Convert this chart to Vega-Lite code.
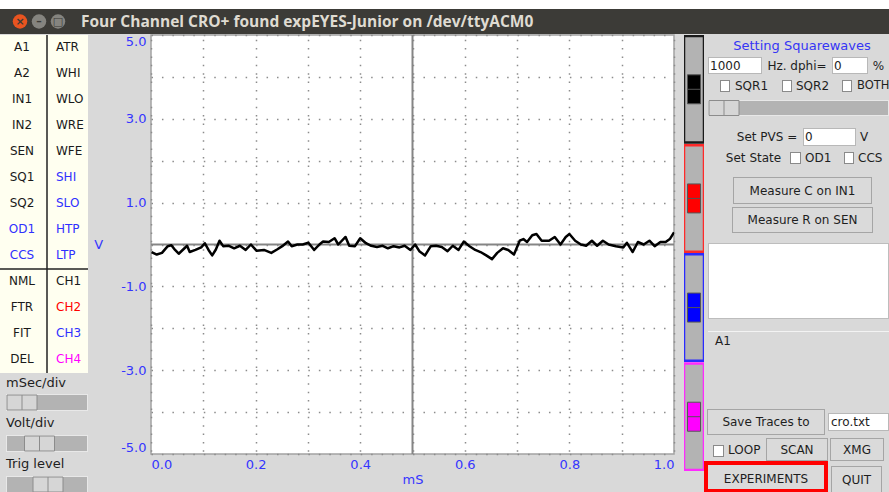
{
"$schema": "https://vega.github.io/schema/vega-lite/v6.json",
"padding": 0,
"background": "#d9d9d9",
"config": {"view": {"stroke": null}, "concat": {"spacing": 0}},
"resolve": {"scale": {"color": "independent", "fill": "independent", "stroke": "independent"}},
"spacing": 0,
"vconcat": [
 {"width": 889, "height": 9, "view": {"fill": "#ffffff"}, "data": {"values": [{}]}, "mark": {"type": "text", "text": "", "fontSize": 0}, "encoding": {}},
 {"width": 889, "height": 25, "view": {"fill": "#3c3b37"},
  "layer": [
   {"data": {"values": [{"button": "close", "glyph": "×"}, {"button": "minimize", "glyph": "–"}, {"button": "maximize", "glyph": "□"}]},
    "mark": {"type": "point", "filled": true, "size": 210, "opacity": 1, "shape": "circle"},
    "encoding": {"x": {"field": "button", "type": "nominal", "scale": {"type": "point", "domain": ["close", "minimize", "maximize", "title"], "range": [20, 77], "padding": 0}, "axis": null},
     "color": {"field": "button", "type": "nominal", "scale": {"domain": ["close", "minimize", "maximize"], "range": ["#e95420", "#85847f", "#85847f"]}, "legend": null}}},
   {"data": {"values": [{"button": "close", "glyph": "×"}, {"button": "minimize", "glyph": "–"}, {"button": "maximize", "glyph": "□"}]},
    "mark": {"type": "text", "font": "DejaVu Sans", "fontSize": 11, "fontWeight": "bold", "color": "#3c3b37"},
    "encoding": {"x": {"field": "button", "type": "nominal"}, "text": {"field": "glyph"}}},
   {"data": {"values": [{"title": "Four Channel CRO+ found expEYES-Junior on /dev/ttyACM0"}]},
    "mark": {"type": "text", "align": "left", "dx": 4, "font": "Open Sans", "fontSize": 15.5, "fontWeight": "bold", "color": "#dfdbd2"},
    "encoding": {"x": {"datum": "title", "type": "nominal"}, "text": {"field": "title"}}}
  ]},
 {"resolve": {"scale": {"color": "independent", "fill": "independent", "stroke": "independent"}},
  "hconcat": [
   {"vconcat": [
     {"width": 88, "height": 338, "view": {"fill": "#fffff0"},
      "data": {"values": [
       {"label": "A1", "col": "L", "row": 1, "group": "measure"}, {"label": "ATR", "col": "R", "row": 1, "group": "measure"},
       {"label": "A2", "col": "L", "row": 2, "group": "measure"}, {"label": "WHI", "col": "R", "row": 2, "group": "measure"},
       {"label": "IN1", "col": "L", "row": 3, "group": "measure"}, {"label": "WLO", "col": "R", "row": 3, "group": "measure"},
       {"label": "IN2", "col": "L", "row": 4, "group": "measure"}, {"label": "WRE", "col": "R", "row": 4, "group": "measure"},
       {"label": "SEN", "col": "L", "row": 5, "group": "measure"}, {"label": "WFE", "col": "R", "row": 5, "group": "measure"},
       {"label": "SQ1", "col": "L", "row": 6, "group": "measure"}, {"label": "SHI", "col": "R", "row": 6, "group": "output"},
       {"label": "SQ2", "col": "L", "row": 7, "group": "measure"}, {"label": "SLO", "col": "R", "row": 7, "group": "output"},
       {"label": "OD1", "col": "L", "row": 8, "group": "output"}, {"label": "HTP", "col": "R", "row": 8, "group": "output"},
       {"label": "CCS", "col": "L", "row": 9, "group": "output"}, {"label": "LTP", "col": "R", "row": 9, "group": "output"},
       {"label": "NML", "col": "L", "row": 10, "group": "mode"}, {"label": "CH1", "col": "R", "row": 10, "group": "CH1"},
       {"label": "FTR", "col": "L", "row": 11, "group": "mode"}, {"label": "CH2", "col": "R", "row": 11, "group": "CH2"},
       {"label": "FIT", "col": "L", "row": 12, "group": "mode"}, {"label": "CH3", "col": "R", "row": 12, "group": "CH3"},
       {"label": "DEL", "col": "L", "row": 13, "group": "mode"}, {"label": "CH4", "col": "R", "row": 13, "group": "CH4"}
      ]},
      "layer": [
       {"transform": [{"filter": "datum.col == 'L'"}],
        "mark": {"type": "text", "font": "DejaVu Sans", "fontSize": 12, "dy": -1},
        "encoding": {
         "x": {"field": "col", "type": "nominal", "scale": {"type": "band", "domain": ["L", "R"], "paddingInner": 0, "paddingOuter": 0}, "axis": null},
         "y": {"field": "row", "type": "ordinal", "scale": {"type": "band", "domain": [1,2,3,4,5,6,7,8,9,10,11,12,13], "paddingInner": 0, "paddingOuter": 0}, "axis": null},
         "text": {"field": "label"},
         "color": {"field": "group", "type": "nominal", "scale": {"domain": ["measure", "output", "mode", "CH1", "CH2", "CH3", "CH4"], "range": ["#1a1a1a", "#3030ff", "#1a1a1a", "#1a1a1a", "#ff0000", "#3030ff", "#ff00ff"]}, "legend": null}}},
       {"transform": [{"filter": "datum.col == 'R'"}],
        "mark": {"type": "text", "font": "DejaVu Sans", "fontSize": 12, "dy": -1, "align": "left", "dx": 12},
        "encoding": {
         "x": {"field": "col", "type": "nominal", "bandPosition": 0},
         "y": {"field": "row", "type": "ordinal"},
         "text": {"field": "label"},
         "color": {"field": "group", "type": "nominal"}}},
       {"data": {"values": [{"divider": "R"}]},
        "mark": {"type": "rule", "color": "#222222", "strokeWidth": 1.5, "xOffset": 3, "clip": true},
        "encoding": {"x": {"field": "divider", "type": "nominal", "bandPosition": 0}}},
       {"data": {"values": [{"divider": 10}]},
        "mark": {"type": "rule", "color": "#222222", "strokeWidth": 1.5, "clip": true},
        "encoding": {"y": {"field": "divider", "type": "ordinal", "bandPosition": 0}}}
      ]},
     {"width": 88, "height": 20, "data": {"values": [{"t": "mSec/div"}]}, "mark": {"type": "text", "align": "left", "dx": -38, "font": "DejaVu Sans", "fontSize": 13, "color": "#1e1e1e"}, "encoding": {"text": {"field": "t"}}},
     {"width": 88, "height": 1, "data": {"values": [{}]}, "mark": {"type": "text", "text": "", "fontSize": 0}, "encoding": {}},
     {"hconcat": [
       {"width": 6, "height": 17, "data": {"values": [{}]}, "mark": {"type": "text", "text": "", "fontSize": 0}, "encoding": {}},
       {"width": 82, "height": 17, "view": {"fill": "#b3b3b3"}, "data": {"values": [{"position": 0}]},
        "layer": [
         {"mark": {"type": "rect", "filled": false, "color": "#e8e8e8", "strokeWidth": 2, "clip": true}, "encoding": {"x": {"value": 0}, "x2": {"value": "width"}, "y": {"value": 0}, "y2": {"value": "height"}}},
         {"mark": {"type": "point", "shape": "M-1,-0.5H1V0.5H-1ZM0,-0.5V0.5", "size": 900, "filled": true, "opacity": 1, "color": "#d6d6d6", "stroke": "#8c8c8c", "strokeWidth": 1, "clip": true},
          "encoding": {"x": {"field": "position", "type": "quantitative", "scale": {"domain": [0, 1], "nice": false, "zero": false, "padding": 16}, "axis": null}}}
        ]}
      ], "spacing": 0},
     {"width": 88, "height": 2, "data": {"values": [{}]}, "mark": {"type": "text", "text": "", "fontSize": 0}, "encoding": {}},
     {"width": 88, "height": 20, "data": {"values": [{"t": "Volt/div"}]}, "mark": {"type": "text", "align": "left", "dx": -38, "font": "DejaVu Sans", "fontSize": 13, "color": "#1e1e1e"}, "encoding": {"text": {"field": "t"}}},
     {"width": 88, "height": 2, "data": {"values": [{}]}, "mark": {"type": "text", "text": "", "fontSize": 0}, "encoding": {}},
     {"hconcat": [
       {"width": 6, "height": 17, "data": {"values": [{}]}, "mark": {"type": "text", "text": "", "fontSize": 0}, "encoding": {}},
       {"width": 82, "height": 17, "view": {"fill": "#b3b3b3"}, "data": {"values": [{"position": 0.35}]},
        "layer": [
         {"mark": {"type": "rect", "filled": false, "color": "#e8e8e8", "strokeWidth": 2, "clip": true}, "encoding": {"x": {"value": 0}, "x2": {"value": "width"}, "y": {"value": 0}, "y2": {"value": "height"}}},
         {"mark": {"type": "point", "shape": "M-1,-0.5H1V0.5H-1ZM0,-0.5V0.5", "size": 900, "filled": true, "opacity": 1, "color": "#d6d6d6", "stroke": "#8c8c8c", "strokeWidth": 1, "clip": true},
          "encoding": {"x": {"field": "position", "type": "quantitative", "scale": {"domain": [0, 1], "nice": false, "zero": false, "padding": 16}, "axis": null}}}
        ]}
      ], "spacing": 0},
     {"width": 88, "height": 23, "data": {"values": [{"t": "Trig level"}]}, "mark": {"type": "text", "align": "left", "dx": -38, "font": "DejaVu Sans", "fontSize": 13, "color": "#1e1e1e"}, "encoding": {"text": {"field": "t"}}},
     {"width": 88, "height": 1, "data": {"values": [{}]}, "mark": {"type": "text", "text": "", "fontSize": 0}, "encoding": {}},
     {"hconcat": [
       {"width": 6, "height": 17, "data": {"values": [{}]}, "mark": {"type": "text", "text": "", "fontSize": 0}, "encoding": {}},
       {"width": 82, "height": 17, "view": {"fill": "#b3b3b3"}, "data": {"values": [{"position": 0.52}]},
        "layer": [
         {"mark": {"type": "rect", "filled": false, "color": "#e8e8e8", "strokeWidth": 2, "clip": true}, "encoding": {"x": {"value": 0}, "x2": {"value": "width"}, "y": {"value": 0}, "y2": {"value": "height"}}},
         {"mark": {"type": "point", "shape": "M-1,-0.5H1V0.5H-1ZM0,-0.5V0.5", "size": 900, "filled": true, "opacity": 1, "color": "#d6d6d6", "stroke": "#8c8c8c", "strokeWidth": 1, "clip": true},
          "encoding": {"x": {"field": "position", "type": "quantitative", "scale": {"domain": [0, 1], "nice": false, "zero": false, "padding": 16}, "axis": null}}}
        ]}
      ], "spacing": 0}
    ], "spacing": 0},
   {"width": 4, "height": 10, "data": {"values": [{}]}, "mark": {"type": "text", "text": "", "fontSize": 0}, "encoding": {}},
   {"width": 523, "height": 419, "view": {"fill": "#ffffff", "stroke": "#a3a3a3", "strokeWidth": 1.5},
    "data": {"values": [
     {"t":0.001,"v":-0.18},{"t":0.011,"v":-0.24},{"t":0.021,"v":-0.2},{"t":0.032,"v":-0.04},{"t":0.039,"v":-0.02},{"t":0.046,"v":-0.13},{"t":0.053,"v":-0.22},{"t":0.064,"v":-0.09},{"t":0.069,"v":-0.03},{"t":0.074,"v":-0.18},
     {"t":0.085,"v":-0.13},{"t":0.096,"v":-0.07},{"t":0.103,"v":0.03},{"t":0.11,"v":-0.13},{"t":0.117,"v":-0.26},{"t":0.124,"v":-0.12},{"t":0.131,"v":0.09},{"t":0.138,"v":-0.04},{"t":0.149,"v":-0.03},{"t":0.159,"v":-0.09},
     {"t":0.17,"v":-0.03},{"t":0.181,"v":-0.13},{"t":0.191,"v":0.0},{"t":0.202,"v":-0.15},{"t":0.216,"v":-0.13},{"t":0.23,"v":-0.2},{"t":0.241,"v":-0.12},{"t":0.251,"v":-0.04},{"t":0.262,"v":0.07},{"t":0.269,"v":-0.04},
     {"t":0.28,"v":0.0},{"t":0.29,"v":0.0},{"t":0.301,"v":0.04},{"t":0.312,"v":-0.13},{"t":0.322,"v":0.0},{"t":0.329,"v":0.07},{"t":0.34,"v":0.06},{"t":0.351,"v":0.15},{"t":0.358,"v":0.0},{"t":0.372,"v":0.18},
     {"t":0.379,"v":-0.03},{"t":0.39,"v":-0.04},{"t":0.4,"v":0.15},{"t":0.411,"v":0.03},{"t":0.421,"v":-0.03},{"t":0.432,"v":-0.06},{"t":0.443,"v":-0.03},{"t":0.453,"v":-0.09},{"t":0.464,"v":-0.04},{"t":0.475,"v":-0.07},
     {"t":0.485,"v":-0.03},{"t":0.496,"v":-0.13},{"t":0.505,"v":0.0},{"t":0.513,"v":-0.16},{"t":0.524,"v":-0.26},{"t":0.535,"v":-0.04},{"t":0.545,"v":-0.03},{"t":0.556,"v":-0.06},{"t":0.567,"v":-0.16},{"t":0.577,"v":-0.03},
     {"t":0.588,"v":-0.13},{"t":0.598,"v":0.07},{"t":0.609,"v":-0.04},{"t":0.62,"v":-0.13},{"t":0.63,"v":-0.18},{"t":0.641,"v":-0.26},{"t":0.652,"v":-0.35},{"t":0.662,"v":-0.2},{"t":0.673,"v":-0.09},{"t":0.683,"v":-0.13},
     {"t":0.694,"v":-0.24},{"t":0.705,"v":0.09},{"t":0.712,"v":0.13},{"t":0.719,"v":0.06},{"t":0.729,"v":0.22},{"t":0.737,"v":0.25},{"t":0.747,"v":0.09},{"t":0.761,"v":0.09},{"t":0.772,"v":0.18},{"t":0.783,"v":0.0},
     {"t":0.793,"v":0.18},{"t":0.8,"v":0.25},{"t":0.811,"v":0.09},{"t":0.822,"v":0.0},{"t":0.832,"v":-0.03},{"t":0.843,"v":0.09},{"t":0.853,"v":-0.03},{"t":0.864,"v":0.09},{"t":0.875,"v":0.0},{"t":0.889,"v":-0.04},
     {"t":0.903,"v":-0.07},{"t":0.91,"v":0.04},{"t":0.921,"v":-0.18},{"t":0.931,"v":0.06},{"t":0.942,"v":0.0},{"t":0.953,"v":0.09},{"t":0.963,"v":-0.04},{"t":0.974,"v":0.06},{"t":0.984,"v":0.06},{"t":0.992,"v":0.13},
     {"t":1.0,"v":0.29}
    ]},
    "layer": [
     {"data": {"values": [{"v": 0}]}, "mark": {"type": "rule", "color": "#858585", "strokeWidth": 2, "clip": true}, "encoding": {"y": {"field": "v", "type": "quantitative"}}},
     {"data": {"values": [{"t": 0.5}]}, "mark": {"type": "rule", "color": "#858585", "strokeWidth": 2, "clip": true}, "encoding": {"x": {"field": "t", "type": "quantitative"}}},
     {"mark": {"type": "line", "color": "#000000", "strokeWidth": 2.5, "strokeJoin": "round", "clip": true},
      "encoding": {
       "x": {"field": "t", "type": "quantitative", "scale": {"domain": [0, 1], "nice": false, "zero": false},
        "axis": {"values": [0, 0.1, 0.2, 0.3, 0.4, 0.5, 0.6, 0.7, 0.8, 0.9, 1.0], "grid": true, "gridColor": "#8c8c8c", "gridWidth": 1.5, "gridDash": [1.5, 6.88], "gridDashOffset": 4.2, "ticks": false, "domain": false,
         "labelExpr": "round(datum.value * 10) % 2 == 0 ? format(datum.value, '.1f') : ''",
         "labelFont": "DejaVu Sans", "labelFontSize": 13, "labelColor": "#3535ff", "labelPadding": 4, "labelFlush": true, "labelOverlap": false,
         "title": "mS", "titleFont": "DejaVu Sans", "titleFontSize": 13, "titleFontWeight": "normal", "titleColor": "#3535ff", "titlePadding": 2}},
       "y": {"field": "v", "type": "quantitative", "scale": {"domain": [-5, 5], "nice": false, "zero": false},
        "axis": {"values": [-5, -4, -3, -2, -1, 0, 1, 2, 3, 4, 5], "grid": true, "gridColor": "#8c8c8c", "gridWidth": 1.5, "gridDash": [1.5, 8.96], "ticks": false, "domain": false,
         "labelExpr": "abs(round(datum.value)) % 2 == 1 ? (datum.value < 0 ? '-' : '') + format(abs(datum.value), '.1f') : ''",
         "labelFont": "DejaVu Sans", "labelFontSize": 13, "labelColor": "#3535ff", "labelPadding": 5, "labelFlush": true, "labelOverlap": false,
         "title": "V", "titleAngle": 0, "titleAlign": "right", "titleBaseline": "middle", "titleFont": "DejaVu Sans", "titleFontSize": 13, "titleFontWeight": "normal", "titleColor": "#3535ff", "titlePadding": 18}}
      }}
    ]},
   {"width": 9, "height": 10, "data": {"values": [{}]}, "mark": {"type": "text", "text": "", "fontSize": 0}, "encoding": {}},
   {"width": 20, "height": 436,
    "data": {"values": [{"channel": "CH1"}, {"channel": "CH2"}, {"channel": "CH3"}, {"channel": "CH4"}]},
    "layer": [
     {"mark": {"type": "rect", "fill": "#b3b3b3", "strokeWidth": 2.5, "clip": true},
      "encoding": {"y": {"field": "channel", "type": "nominal", "scale": {"type": "band", "domain": ["CH1", "CH2", "CH3", "CH4"], "paddingInner": 0.025, "paddingOuter": 0.01}, "axis": null},
       "x": {"value": 0}, "x2": {"value": "width"},
       "stroke": {"field": "channel", "type": "nominal", "scale": {"domain": ["CH1", "CH2", "CH3", "CH4"], "range": ["#1a1a1a", "#ff2a2a", "#2a2aff", "#ff2aff"]}, "legend": null}}},
     {"mark": {"type": "point", "shape": "M-0.45,-1H0.45V1H-0.45ZM-0.45,0H0.45", "size": 841, "filled": true, "opacity": 1, "stroke": "#555555", "strokeWidth": 1, "clip": true},
      "encoding": {"y": {"field": "channel", "type": "nominal"},
       "fill": {"field": "channel", "type": "nominal", "scale": {"domain": ["CH1", "CH2", "CH3", "CH4"], "range": ["#000000", "#ff0000", "#0000ff", "#ff00ff"]}, "legend": null}}}
    ]},
   {"vconcat": [
     {"width": 185, "height": 22, "data": {"values": [{"t": "Setting Squarewaves"}]}, "mark": {"type": "text", "dx": 5.5, "font": "DejaVu Sans", "fontSize": 13, "color": "#3535f5"}, "encoding": {"text": {"field": "t"}}},
     {"hconcat": [
       {"width": 4, "height": 17, "data": {"values": [{}]}, "mark": {"type": "text", "text": "", "fontSize": 0}, "encoding": {}},
       {"width": 54, "height": 17, "view": {"fill": "#ffffff"}, "data": {"values": [{"t": "1000"}]},
        "layer": [
         {"mark": {"type": "rect", "filled": false, "color": "#b8b8b8", "strokeWidth": 2, "clip": true}, "encoding": {"x": {"value": 0}, "x2": {"value": "width"}, "y": {"value": 0}, "y2": {"value": "height"}}},
         {"mark": {"type": "text", "align": "left", "dx": -25, "font": "DejaVu Sans", "fontSize": 12, "color": "#1e1e1e"}, "encoding": {"text": {"field": "t"}}}]},
       {"width": 70, "height": 17, "data": {"values": [{"t": "Hz. dphi="}]}, "mark": {"type": "text", "font": "DejaVu Sans", "fontSize": 12, "color": "#1e1e1e"}, "encoding": {"text": {"field": "t"}}},
       {"width": 36, "height": 17, "view": {"fill": "#ffffff"}, "data": {"values": [{"t": "0"}]},
        "layer": [
         {"mark": {"type": "rect", "filled": false, "color": "#b8b8b8", "strokeWidth": 2, "clip": true}, "encoding": {"x": {"value": 0}, "x2": {"value": "width"}, "y": {"value": 0}, "y2": {"value": "height"}}},
         {"mark": {"type": "text", "align": "left", "dx": -16, "font": "DejaVu Sans", "fontSize": 12, "color": "#1e1e1e"}, "encoding": {"text": {"field": "t"}}}]},
       {"width": 21, "height": 17, "data": {"values": [{"t": "%"}]}, "mark": {"type": "text", "font": "DejaVu Sans", "fontSize": 12, "color": "#1e1e1e"}, "encoding": {"text": {"field": "t"}}}
      ], "spacing": 0},
     {"width": 185, "height": 6, "data": {"values": [{}]}, "mark": {"type": "text", "text": "", "fontSize": 0}, "encoding": {}},
     {"hconcat": [
       {"width": 16, "height": 12, "data": {"values": [{}]}, "mark": {"type": "text", "text": "", "fontSize": 0}, "encoding": {}},
       {"width": 10, "height": 12, "view": {"fill": "#ffffff"}, "data": {"values": [{}]}, "mark": {"type": "rect", "filled": false, "color": "#8a8a8a", "strokeWidth": 2, "clip": true}, "encoding": {"x": {"value": 0}, "x2": {"value": "width"}, "y": {"value": 0}, "y2": {"value": "height"}}},
       {"width": 52, "height": 12, "data": {"values": [{"t": "SQR1"}]}, "mark": {"type": "text", "align": "left", "dx": -21, "font": "DejaVu Sans", "fontSize": 12, "color": "#1e1e1e"}, "encoding": {"text": {"field": "t"}}},
       {"width": 10, "height": 12, "view": {"fill": "#ffffff"}, "data": {"values": [{}]}, "mark": {"type": "rect", "filled": false, "color": "#8a8a8a", "strokeWidth": 2, "clip": true}, "encoding": {"x": {"value": 0}, "x2": {"value": "width"}, "y": {"value": 0}, "y2": {"value": "height"}}},
       {"width": 50, "height": 12, "data": {"values": [{"t": "SQR2"}]}, "mark": {"type": "text", "align": "left", "dx": -21, "font": "DejaVu Sans", "fontSize": 12, "color": "#1e1e1e"}, "encoding": {"text": {"field": "t"}}},
       {"width": 10, "height": 12, "view": {"fill": "#ffffff"}, "data": {"values": [{}]}, "mark": {"type": "rect", "filled": false, "color": "#8a8a8a", "strokeWidth": 2, "clip": true}, "encoding": {"x": {"value": 0}, "x2": {"value": "width"}, "y": {"value": 0}, "y2": {"value": "height"}}},
       {"width": 37, "height": 12, "data": {"values": [{"t": "BOTH"}]}, "mark": {"type": "text", "align": "left", "dx": -13.5, "font": "DejaVu Sans", "fontSize": 11.5, "color": "#1e1e1e"}, "encoding": {"text": {"field": "t"}}}
      ], "spacing": 0},
     {"width": 185, "height": 8, "data": {"values": [{}]}, "mark": {"type": "text", "text": "", "fontSize": 0}, "encoding": {}},
     {"hconcat": [
       {"width": 4, "height": 16, "data": {"values": [{}]}, "mark": {"type": "text", "text": "", "fontSize": 0}, "encoding": {}},
       {"width": 181, "height": 16, "view": {"fill": "#b3b3b3"}, "data": {"values": [{"position": 0}]},
        "layer": [
         {"mark": {"type": "rect", "filled": false, "color": "#e8e8e8", "strokeWidth": 2, "clip": true}, "encoding": {"x": {"value": 0}, "x2": {"value": "width"}, "y": {"value": 0}, "y2": {"value": "height"}}},
         {"mark": {"type": "point", "shape": "M-1,-0.5H1V0.5H-1ZM0,-0.5V0.5", "size": 900, "filled": true, "opacity": 1, "color": "#d6d6d6", "stroke": "#8c8c8c", "strokeWidth": 1, "clip": true},
          "encoding": {"x": {"field": "position", "type": "quantitative", "scale": {"domain": [0, 1], "nice": false, "zero": false, "padding": 16}, "axis": null}}}
        ]}
      ], "spacing": 0},
     {"width": 185, "height": 12, "data": {"values": [{}]}, "mark": {"type": "text", "text": "", "fontSize": 0}, "encoding": {}},
     {"hconcat": [
       {"width": 27, "height": 18, "data": {"values": [{}]}, "mark": {"type": "text", "text": "", "fontSize": 0}, "encoding": {}},
       {"width": 72, "height": 18, "data": {"values": [{"t": "Set PVS ="}]}, "mark": {"type": "text", "font": "DejaVu Sans", "fontSize": 12, "color": "#1e1e1e"}, "encoding": {"text": {"field": "t"}}},
       {"width": 53, "height": 18, "view": {"fill": "#ffffff"}, "data": {"values": [{"t": "0"}]},
        "layer": [
         {"mark": {"type": "rect", "filled": false, "color": "#b8b8b8", "strokeWidth": 2, "clip": true}, "encoding": {"x": {"value": 0}, "x2": {"value": "width"}, "y": {"value": 0}, "y2": {"value": "height"}}},
         {"mark": {"type": "text", "align": "left", "dx": -24.5, "font": "DejaVu Sans", "fontSize": 12, "color": "#1e1e1e"}, "encoding": {"text": {"field": "t"}}}]},
       {"width": 33, "height": 18, "data": {"values": [{"t": "V"}]}, "mark": {"type": "text", "align": "left", "dx": -12.5, "font": "DejaVu Sans", "fontSize": 12, "color": "#1e1e1e"}, "encoding": {"text": {"field": "t"}}}
      ], "spacing": 0},
     {"width": 185, "height": 6, "data": {"values": [{}]}, "mark": {"type": "text", "text": "", "fontSize": 0}, "encoding": {}},
     {"hconcat": [
       {"width": 13, "height": 12, "data": {"values": [{}]}, "mark": {"type": "text", "text": "", "fontSize": 0}, "encoding": {}},
       {"width": 73, "height": 12, "data": {"values": [{"t": "Set State"}]}, "mark": {"type": "text", "font": "DejaVu Sans", "fontSize": 12, "color": "#1e1e1e"}, "encoding": {"text": {"field": "t"}}},
       {"width": 11, "height": 12, "view": {"fill": "#ffffff"}, "data": {"values": [{}]}, "mark": {"type": "rect", "filled": false, "color": "#8a8a8a", "strokeWidth": 2, "clip": true}, "encoding": {"x": {"value": 0}, "x2": {"value": "width"}, "y": {"value": 0}, "y2": {"value": "height"}}},
       {"width": 43, "height": 12, "data": {"values": [{"t": "OD1"}]}, "mark": {"type": "text", "align": "left", "dx": -17.5, "font": "DejaVu Sans", "fontSize": 12, "color": "#1e1e1e"}, "encoding": {"text": {"field": "t"}}},
       {"width": 10, "height": 12, "view": {"fill": "#ffffff"}, "data": {"values": [{}]}, "mark": {"type": "rect", "filled": false, "color": "#8a8a8a", "strokeWidth": 2, "clip": true}, "encoding": {"x": {"value": 0}, "x2": {"value": "width"}, "y": {"value": 0}, "y2": {"value": "height"}}},
       {"width": 35, "height": 12, "data": {"values": [{"t": "CCS"}]}, "mark": {"type": "text", "align": "left", "dx": -13.5, "font": "DejaVu Sans", "fontSize": 12, "color": "#1e1e1e"}, "encoding": {"text": {"field": "t"}}}
      ], "spacing": 0},
     {"width": 185, "height": 13, "data": {"values": [{}]}, "mark": {"type": "text", "text": "", "fontSize": 0}, "encoding": {}},
     {"hconcat": [
       {"width": 29, "height": 27, "data": {"values": [{}]}, "mark": {"type": "text", "text": "", "fontSize": 0}, "encoding": {}},
       {"width": 139, "height": 27, "view": {"fill": "#dadada"}, "data": {"values": [{"t": "Measure C on IN1"}]},
        "layer": [
         {"mark": {"type": "rect", "filled": false, "color": "#a5a5a5", "strokeWidth": 2, "clip": true}, "encoding": {"x": {"value": 0}, "x2": {"value": "width"}, "y": {"value": 0}, "y2": {"value": "height"}}},
         {"mark": {"type": "text", "font": "DejaVu Sans", "fontSize": 12, "color": "#1e1e1e"}, "encoding": {"text": {"field": "t"}}}]}
      ], "spacing": 0},
     {"width": 185, "height": 3, "data": {"values": [{}]}, "mark": {"type": "text", "text": "", "fontSize": 0}, "encoding": {}},
     {"hconcat": [
       {"width": 28, "height": 26, "data": {"values": [{}]}, "mark": {"type": "text", "text": "", "fontSize": 0}, "encoding": {}},
       {"width": 141, "height": 26, "view": {"fill": "#dadada"}, "data": {"values": [{"t": "Measure R on SEN"}]},
        "layer": [
         {"mark": {"type": "rect", "filled": false, "color": "#a5a5a5", "strokeWidth": 2, "clip": true}, "encoding": {"x": {"value": 0}, "x2": {"value": "width"}, "y": {"value": 0}, "y2": {"value": "height"}}},
         {"mark": {"type": "text", "font": "DejaVu Sans", "fontSize": 12, "color": "#1e1e1e"}, "encoding": {"text": {"field": "t"}}}]}
      ], "spacing": 0},
     {"width": 185, "height": 10, "data": {"values": [{}]}, "mark": {"type": "text", "text": "", "fontSize": 0}, "encoding": {}},
     {"hconcat": [
       {"width": 4, "height": 76, "data": {"values": [{}]}, "mark": {"type": "text", "text": "", "fontSize": 0}, "encoding": {}},
       {"width": 181, "height": 76, "view": {"fill": "#ffffff"}, "data": {"values": [{}]}, "mark": {"type": "rect", "filled": false, "color": "#bdbdbd", "strokeWidth": 2, "clip": true}, "encoding": {"x": {"value": 0}, "x2": {"value": "width"}, "y": {"value": 0}, "y2": {"value": "height"}}}
      ], "spacing": 0},
     {"width": 185, "height": 12, "data": {"values": [{}]}, "mark": {"type": "text", "text": "", "fontSize": 0}, "encoding": {}},
     {"hconcat": [
       {"width": 4, "height": 1, "data": {"values": [{}]}, "mark": {"type": "text", "text": "", "fontSize": 0}, "encoding": {}},
       {"width": 181, "height": 1, "view": {"fill": "#f3f3f3"}, "data": {"values": [{}]}, "mark": {"type": "text", "text": "", "fontSize": 0}, "encoding": {}}
      ], "spacing": 0},
     {"width": 185, "height": 18, "data": {"values": [{"t": "A1"}]}, "mark": {"type": "text", "align": "left", "dx": -81.5, "font": "DejaVu Sans", "fontSize": 12, "color": "#1e1e1e"}, "encoding": {"text": {"field": "t"}}},
     {"width": 185, "height": 59, "data": {"values": [{}]}, "mark": {"type": "text", "text": "", "fontSize": 0}, "encoding": {}},
     {"hconcat": [
       {"width": 3, "height": 26, "data": {"values": [{}]}, "mark": {"type": "text", "text": "", "fontSize": 0}, "encoding": {}},
       {"width": 118, "height": 26, "view": {"fill": "#dadada"}, "data": {"values": [{"t": "Save Traces to"}]},
        "layer": [
         {"mark": {"type": "rect", "filled": false, "color": "#a5a5a5", "strokeWidth": 2, "clip": true}, "encoding": {"x": {"value": 0}, "x2": {"value": "width"}, "y": {"value": 0}, "y2": {"value": "height"}}},
         {"mark": {"type": "text", "font": "DejaVu Sans", "fontSize": 12, "color": "#1e1e1e"}, "encoding": {"text": {"field": "t"}}}]},
       {"width": 3, "height": 26, "data": {"values": [{}]}, "mark": {"type": "text", "text": "", "fontSize": 0}, "encoding": {}},
       {"vconcat": [
         {"width": 61, "height": 4, "data": {"values": [{}]}, "mark": {"type": "text", "text": "", "fontSize": 0}, "encoding": {}},
         {"width": 61, "height": 18, "view": {"fill": "#ffffff"}, "data": {"values": [{"t": "cro.txt"}]},
          "layer": [
           {"mark": {"type": "rect", "filled": false, "color": "#b8b8b8", "strokeWidth": 2, "clip": true}, "encoding": {"x": {"value": 0}, "x2": {"value": "width"}, "y": {"value": 0}, "y2": {"value": "height"}}},
           {"mark": {"type": "text", "align": "left", "dx": -27.5, "font": "DejaVu Sans", "fontSize": 12, "color": "#1e1e1e"}, "encoding": {"text": {"field": "t"}}}]}
        ], "spacing": 0}
      ], "spacing": 0},
     {"width": 185, "height": 3, "data": {"values": [{}]}, "mark": {"type": "text", "text": "", "fontSize": 0}, "encoding": {}},
     {"hconcat": [
       {"width": 9, "height": 23, "data": {"values": [{}]}, "mark": {"type": "text", "text": "", "fontSize": 0}, "encoding": {}},
       {"vconcat": [
         {"width": 11, "height": 7, "data": {"values": [{}]}, "mark": {"type": "text", "text": "", "fontSize": 0}, "encoding": {}},
         {"width": 11, "height": 12, "view": {"fill": "#ffffff"}, "data": {"values": [{}]}, "mark": {"type": "rect", "filled": false, "color": "#8a8a8a", "strokeWidth": 2, "clip": true}, "encoding": {"x": {"value": 0}, "x2": {"value": "width"}, "y": {"value": 0}, "y2": {"value": "height"}}}
        ], "spacing": 0},
       {"width": 42, "height": 23, "data": {"values": [{"t": "LOOP"}]}, "mark": {"type": "text", "align": "left", "dx": -17, "font": "DejaVu Sans", "fontSize": 12, "color": "#1e1e1e"}, "encoding": {"text": {"field": "t"}}},
       {"width": 62, "height": 23, "view": {"fill": "#dadada"}, "data": {"values": [{"t": "SCAN"}]},
        "layer": [
         {"mark": {"type": "rect", "filled": false, "color": "#a5a5a5", "strokeWidth": 2, "clip": true}, "encoding": {"x": {"value": 0}, "x2": {"value": "width"}, "y": {"value": 0}, "y2": {"value": "height"}}},
         {"mark": {"type": "text", "font": "DejaVu Sans", "fontSize": 12, "color": "#1e1e1e"}, "encoding": {"text": {"field": "t"}}}]},
       {"width": 2, "height": 23, "data": {"values": [{}]}, "mark": {"type": "text", "text": "", "fontSize": 0}, "encoding": {}},
       {"width": 54, "height": 23, "view": {"fill": "#dadada"}, "data": {"values": [{"t": "XMG"}]},
        "layer": [
         {"mark": {"type": "rect", "filled": false, "color": "#a5a5a5", "strokeWidth": 2, "clip": true}, "encoding": {"x": {"value": 0}, "x2": {"value": "width"}, "y": {"value": 0}, "y2": {"value": "height"}}},
         {"mark": {"type": "text", "font": "DejaVu Sans", "fontSize": 12, "color": "#1e1e1e"}, "encoding": {"text": {"field": "t"}}}]}
      ], "spacing": 0},
     {"hconcat": [
       {"width": 124, "height": 32, "view": {"fill": "#dadada"}, "data": {"values": [{"t": "EXPERIMENTS"}]},
        "layer": [
         {"mark": {"type": "rect", "filled": false, "color": "#ff0000", "strokeWidth": 8, "clip": true}, "encoding": {"x": {"value": 0}, "x2": {"value": "width"}, "y": {"value": 0}, "y2": {"value": "height"}}},
         {"mark": {"type": "text", "font": "DejaVu Sans", "fontSize": 12, "color": "#1e1e1e", "dy": 2}, "encoding": {"text": {"field": "t"}}}]},
       {"width": 3, "height": 32, "data": {"values": [{}]}, "mark": {"type": "text", "text": "", "fontSize": 0}, "encoding": {}},
       {"vconcat": [
         {"width": 51, "height": 5, "data": {"values": [{}]}, "mark": {"type": "text", "text": "", "fontSize": 0}, "encoding": {}},
         {"width": 51, "height": 27, "view": {"fill": "#dadada"}, "data": {"values": [{"t": "QUIT"}]},
          "layer": [
           {"mark": {"type": "rect", "filled": false, "color": "#a5a5a5", "strokeWidth": 2, "clip": true}, "encoding": {"x": {"value": 0}, "x2": {"value": "width"}, "y": {"value": 0}, "y2": {"value": "height"}}},
           {"mark": {"type": "text", "font": "DejaVu Sans", "fontSize": 12, "color": "#1e1e1e"}, "encoding": {"text": {"field": "t"}}}]}
        ], "spacing": 0}
      ], "spacing": 0}
    ], "spacing": 0}
  ], "spacing": 0}
]
}
